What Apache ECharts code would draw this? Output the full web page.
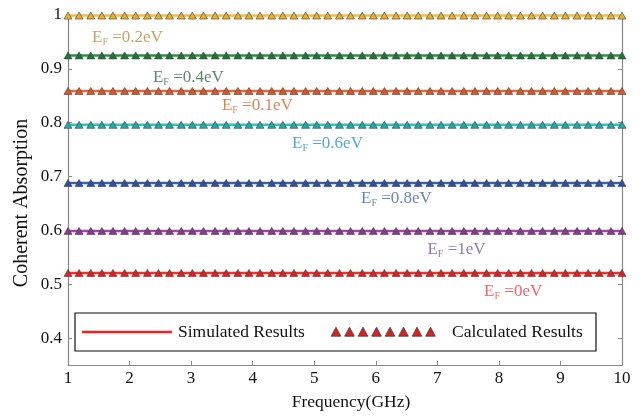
<!DOCTYPE html>
<html>
<head>
<meta charset="utf-8">
<script src="https://cdn.jsdelivr.net/npm/echarts@6/dist/echarts.min.js"></script>
<style>html,body{margin:0;padding:0;background:#fff;}#c{width:643px;height:416px;}</style>
</head>
<body>
<div id="c"></div>
<script>
// Frequency sample points (GHz)
var freq = [1, 1.18, 1.37, 1.55, 1.73, 1.92, 2.10, 2.29, 2.47, 2.65, 2.84, 3.02, 3.20, 3.39, 3.57, 3.76, 3.94, 4.12, 4.31, 4.49, 4.67, 4.86, 5.04, 5.22, 5.41, 5.59, 5.78, 5.96, 6.14, 6.33, 6.51, 6.69, 6.88, 7.06, 7.24, 7.43, 7.61, 7.80, 7.98, 8.16, 8.35, 8.53, 8.71, 8.90, 9.08, 9.27, 9.45, 9.63, 9.82, 10];
// Fermi levels and their coherent absorption levels (flat over frequency)
var fermiLabels = ['0.2eV', '0.4eV', '0.1eV', '0.6eV', '0.8eV', '1eV', '0eV'];
var absorption = [0.999, 0.925, 0.859, 0.796, 0.688, 0.599, 0.521];
// Annotation anchor positions (data coords)
var labelX = [1.39, 2.38, 3.50, 4.64, 5.76, 6.84, 7.76];
var labelY = [0.956, 0.882, 0.830, 0.759, 0.657, 0.562, 0.484];
var xTicks = [1, 2, 3, 4, 5, 6, 7, 8, 9, 10];
var yTicks = [0.4, 0.5, 0.6, 0.7, 0.8, 0.9, 1];

var lineColors = ['#F2BC48', '#2E8E44', '#E36A3A', '#33C2C2', '#3D5FB2', '#A447A4', '#F23030'];
var markColors = ['#E8B030', '#1C7636', '#D9582A', '#22AAAA', '#2F4FA0', '#8A3A8C', '#E02020'];
var textColors = ['#B8893A', '#2F6B3F', '#D9632A', '#2A90C8', '#4262B2', '#7B52A2', '#F03A44'];

var FONT = '"Liberation Serif", "Times New Roman", serif';
var chart = echarts.init(document.getElementById('c'), null, {renderer: 'canvas'});

var series = [];
absorption.forEach(function (v, i) {
  series.push({
    type: 'line',
    name: 'E_F=' + fermiLabels[i],
    data: freq.map(function (f) { return [f, v]; }),
    symbol: 'triangle',
    symbolSize: [8, 7],
    showAllSymbol: true,
    lineStyle: {color: lineColors[i], width: 2.5},
    itemStyle: {color: markColors[i], borderColor: '#3a3a3a', borderWidth: 0.6},
    z: 3,
    silent: true,
    animation: false
  });
});

var annData = fermiLabels.map(function (t, i) {
  var c = textColors[i];
  return {
    value: [labelX[i], labelY[i]],
    label: {
      show: true,
      position: 'right',
      distance: 0,
      formatter: '{e|E}{f|F}{e| =' + t + '}',
      rich: {
        e: {fontFamily: FONT, fontSize: 17, lineHeight: 20, verticalAlign: 'top', color: c},
        f: {fontFamily: FONT, fontSize: 10, lineHeight: 10, verticalAlign: 'top', padding: [9, 0, 0, 0], color: c}
      }
    }
  };
});
series.push({
  type: 'scatter',
  name: 'annotations',
  data: annData,
  symbolSize: 0,
  silent: true,
  animation: false,
  z: 5
});

// Legend drawn as graphic
var legendTri = [];
for (var k = 0; k < 8; k++) {
  var cx = 336 + k * 13.5, cy = 332;
  legendTri.push({
    type: 'polygon',
    shape: {points: [[cx - 4.8, cy + 4.2], [cx, cy - 4.8], [cx + 4.8, cy + 4.2]]},
    style: {fill: '#E02020', stroke: '#3a3a3a', lineWidth: 0.8},
    z: 20
  });
}

var option = {
  backgroundColor: '#fff',
  animation: false,
  grid: {left: 68, right: 21, top: 15, bottom: 49, containLabel: false},
  xAxis: [{
    type: 'value', min: 1, max: 10, interval: 1,
    name: 'Frequency(GHz)', nameLocation: 'middle', nameGap: 28,
    nameTextStyle: {fontFamily: FONT, fontSize: 17.5, color: '#111', padding: [0, 0, 0, 12]},
    axisLine: {show: true, lineStyle: {color: '#888', width: 1.2}},
    axisTick: {show: true, inside: true, length: 4, lineStyle: {color: '#888'}},
    axisLabel: {fontFamily: FONT, fontSize: 17, color: '#111', margin: 5,
      formatter: function (v) { return xTicks.indexOf(v) >= 0 ? String(v) : ''; }},
    splitLine: {show: false}
  }, {
    type: 'value', min: 1, max: 10, interval: 1, position: 'top',
    axisLine: {show: true, lineStyle: {color: '#888', width: 1.2}},
    axisTick: {show: false}, axisLabel: {show: false}, splitLine: {show: false}
  }],
  yAxis: [{
    type: 'value', min: 0.35, max: 1.0,
    name: 'Coherent Absorption', nameLocation: 'middle', nameGap: 36,
    nameMoveOverlap: false,
    nameTextStyle: {fontFamily: FONT, fontSize: 20, color: '#111', padding: [0, 26, 0, 0]},
    axisLine: {show: true, lineStyle: {color: '#888', width: 1.2}},
    axisTick: {show: true, inside: true, length: 4, lineStyle: {color: '#888'},
      customValues: yTicks},
    axisLabel: {fontFamily: FONT, fontSize: 17, color: '#111', margin: 6,
      customValues: yTicks,
      formatter: function (v) { return String(Math.round(v * 10) / 10); }},
    splitLine: {show: false}
  }, {
    type: 'value', min: 0.35, max: 1.0, position: 'right',
    axisLine: {show: true, lineStyle: {color: '#888', width: 1.2}},
    axisTick: {show: true, inside: true, length: 4, lineStyle: {color: '#888'},
      customValues: yTicks},
    axisLabel: {show: false}, splitLine: {show: false}
  }],
  series: series,
  graphic: [
    {type: 'rect', shape: {x: 75, y: 313, width: 521, height: 38},
      style: {fill: '#fff', stroke: '#111', lineWidth: 1.2}, z: 19},
    {type: 'line', shape: {x1: 82, y1: 332, x2: 172, y2: 332},
      style: {stroke: '#F02020', lineWidth: 2.5}, z: 20},
    {type: 'text', x: 178, y: 332,
      style: {text: 'Simulated Results', fontFamily: FONT, fontSize: 17.5, fill: '#111', verticalAlign: 'middle'}, z: 20},
    {type: 'text', x: 452, y: 332,
      style: {text: 'Calculated Results', fontFamily: FONT, fontSize: 17.5, fill: '#111', verticalAlign: 'middle'}, z: 20}
  ].concat(legendTri)
};
chart.setOption(option);
</script>
</body>
</html>
